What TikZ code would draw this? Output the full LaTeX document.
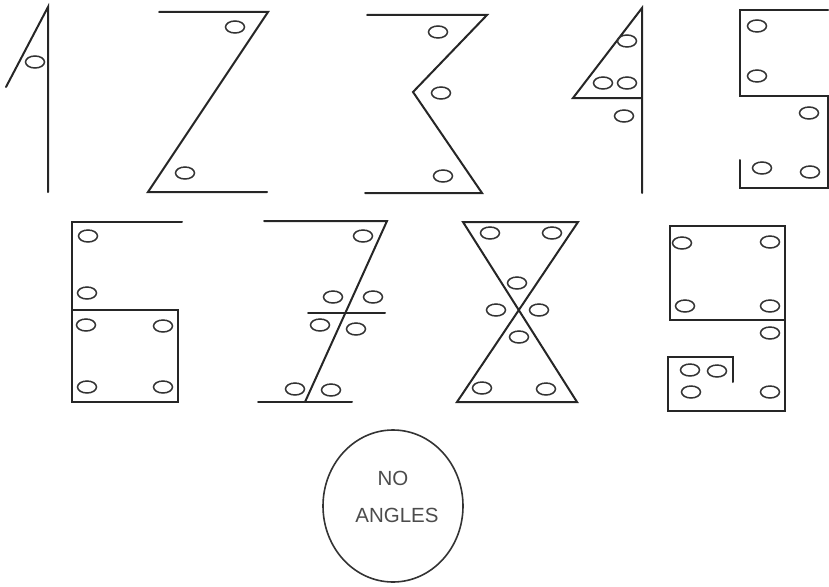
\documentclass[tikz,border=0pt]{standalone}
\usepackage{fontspec}
\setmainfont{Liberation Sans}
\usetikzlibrary{positioning}

\begin{document}
\begin{tikzpicture}[x=1pt, y=-1pt,
        stroke/.style={line width=2pt, black!85, line cap=round, line join=miter},
        hole/.style={line width=1.5pt, black!80},
        label/.style={font=\fontsize{20.5}{24}\selectfont, text=black!70, inner sep=0pt}]
      \useasboundingbox (0,0) rectangle (829,586);
      % row 1
      \draw[stroke] (6,87) -- (48,7) -- (48,192);                         % 1
      \draw[stroke] (159,12) -- (268,12) -- (148,192) -- (267,192);       % 2
      \draw[stroke] (367,15) -- (487,15) -- (413,92) -- (482,193) -- (365,193); % 3
      \draw[stroke] (642,193) -- (642,8) -- (573,98) -- (642,98);         % 4
      \draw[stroke] (828,10) -- (740,10) -- (740,96) -- (828,96) -- (828,188)
                    -- (740,188) -- (740,160);                           % 5
      % row 2
      \draw[stroke] (182,222) -- (72,222) -- (72,402) -- (178,402) -- (178,310) -- (72,310); % 6
      \draw[stroke] (264,221) -- (387,221) -- (305,402);                  % 7
      \draw[stroke] (258,402) -- (352,402);
      \draw[stroke] (308,313) -- (385,313);
      \draw[stroke] (463,222) -- (578,222) -- (457,402) -- (577,402) -- cycle; % 8
      \draw[stroke] (785,320) -- (670,320) -- (670,226) -- (785,226) -- (785,411)
                    -- (668,411) -- (668,357) -- (733,357) -- (733,382); % 9
      % holes
      \foreach \x/\y in {35/62, 235/27, 185/173, 438/32, 441/93, 443/176,
                         627/41, 603/83, 627/83, 624/116,
                         757/26, 757/76, 809/113, 762/168, 810/172,
                         88/236, 87/293, 86/325, 163/326, 87/387, 163/387,
                         363/236, 333/297, 373/297, 320/325, 356/329, 295/389, 331/390,
                         490/233, 552/233, 517/283, 496/310, 539/310, 519/337, 482/388, 546/389,
                         682/243, 770/242, 685/306, 770/306, 770/333, 690/370, 717/371, 691/392, 770/392}
        \draw[hole] (\x,\y) ellipse [x radius=9.5, y radius=6];
      % no angles
      \draw[hole, line width=1.6pt] (393,506) ellipse [x radius=70, y radius=76];
      \node[label] (no) at (393,478) {NO};
      \node[label] (angles) at (397,515) {ANGLES};
    \end{tikzpicture}
\end{document}
